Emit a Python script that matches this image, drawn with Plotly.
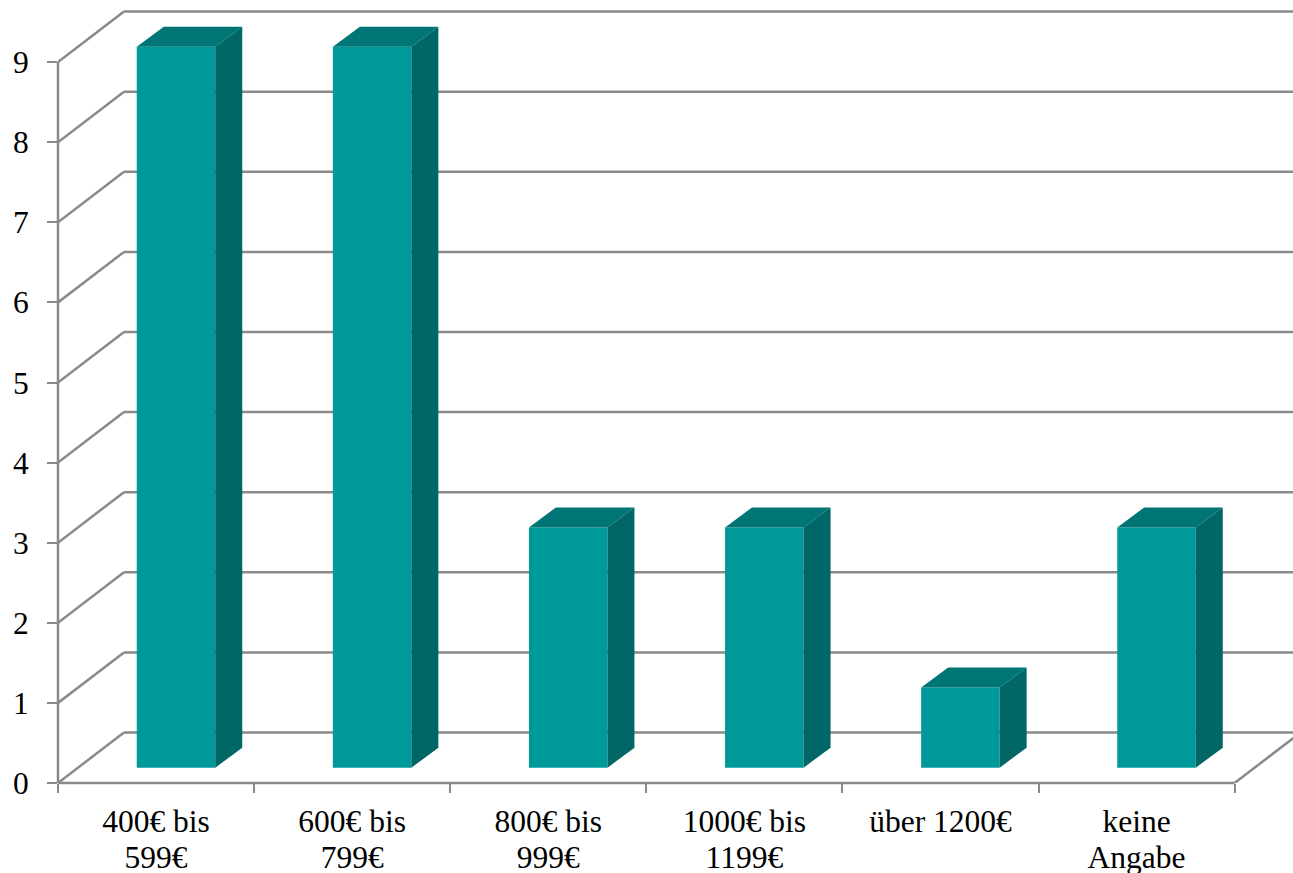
import plotly.graph_objects as go

# --- data ---
label_lines = [["400€ bis", "599€"], ["600€ bis", "799€"], ["800€ bis", "999€"],
               ["1000€ bis", "1199€"], ["über 1200€"], ["keine", "Angabe"]]
values = [9, 9, 3, 3, 1, 3]
y_ticks = [0, 1, 2, 3, 4, 5, 6, 7, 8, 9]

# --- styling / projection constants (pixels converted to axis units) ---
W, H = 1293, 873
PAD_B = 8  # spare room below the window so the second label line does not push the margin
ML, MB = 58, 90
X_UNIT, Y_UNIT = 196.1, 80.1
WALL_DX, WALL_DY = 66 / X_UNIT, 50.5 / Y_UNIT
BAR_W = 78.5 / X_UNIT
BAR_CX = 118.0 / X_UNIT
LIFT = 15.3 / Y_UNIT
DEPTH_DX, DEPTH_DY = 27 / X_UNIT, 20 / Y_UNIT
GRID = "#8a8a8a"
FRONT, TOP, SIDE = "#009999", "#007575", "#006666"
FONT = dict(family="Liberation Serif", size=31.5, color="#000000")
# line pitch follows the tick font size; the glyphs keep the larger size
TICK_FONT = dict(family="Liberation Serif", size=28, color="#000000")
categories = ["<br>".join(f"<span style='font-size:31.5px'>{s}</span>" for s in lines)
              for lines in label_lines]

n = len(label_lines)
positions = [i + BAR_CX for i in range(n)]

fig = go.Figure()
fig.add_trace(go.Bar(x=positions, y=values, base=LIFT, width=BAR_W,
                     marker=dict(color=FRONT, line=dict(width=0)),
                     hoverinfo="skip", showlegend=False))

def faces(kind):
    xs, ys = [], []
    for c, v in zip(positions, values):
        l, r = c - BAR_W / 2, c + BAR_W / 2
        if kind == "top":
            xs += [l, r, r + DEPTH_DX, l + DEPTH_DX, l, None]
            ys += [v + LIFT, v + LIFT, v + LIFT + DEPTH_DY, v + LIFT + DEPTH_DY, v + LIFT, None]
        else:
            xs += [r, r + DEPTH_DX, r + DEPTH_DX, r, r, None]
            ys += [LIFT, LIFT + DEPTH_DY, v + LIFT + DEPTH_DY, v + LIFT, LIFT, None]
    return xs, ys

for kind, col in (("top", TOP), ("side", SIDE)):
    xs, ys = faces(kind)
    fig.add_trace(go.Scatter(x=xs, y=ys, mode="lines", fill="toself", fillcolor=col,
                             line=dict(width=0, color=col), hoverinfo="skip", showlegend=False))

shapes = []
def seg(x0, y0, x1, y1, ref=("x", "y")):
    shapes.append(dict(type="line", layer="below", xref=ref[0], yref=ref[1],
                       x0=x0, y0=y0, x1=x1, y1=y1, line=dict(color=GRID, width=2.5)))

x_max = (W - ML) / X_UNIT
y_max = (H - MB) / Y_UNIT
for t in y_ticks:
    seg(0, t, WALL_DX, t + WALL_DY)
    seg(WALL_DX, t + WALL_DY, x_max + 1, t + WALL_DY)
seg(n, 0, n + WALL_DX, WALL_DY)
# the two front axis lines sit on the plot edge: paper refs keep them unclipped
seg(0, 0, 0, max(y_ticks) / y_max, ref=("paper", "paper"))
seg(0, 0, n / x_max, 0, ref=("paper", "paper"))

fig.update_layout(
    width=W, height=H + PAD_B, margin=dict(l=ML, r=0, t=0, b=MB + PAD_B, pad=0),
    paper_bgcolor="white", plot_bgcolor="white", showlegend=False, shapes=shapes,
    font=FONT,
    xaxis=dict(range=[0, x_max], tickmode="array",
               tickvals=[i + 0.5 for i in range(n)], ticktext=categories,
               ticks="", showgrid=False, zeroline=False, showline=False, tickfont=TICK_FONT,
               ticklabelstandoff=20,
               minor=dict(tickmode="array", tickvals=list(range(n + 1)), ticks="outside",
                          ticklen=9, tickwidth=2, tickcolor=GRID, showgrid=False)),
    yaxis=dict(range=[0, y_max], tickmode="array", tickvals=y_ticks,
               ticktext=[str(t) for t in y_ticks], ticks="outside", ticklen=10, tickwidth=2,
               tickcolor=GRID, showgrid=False, zeroline=False, showline=False, tickfont=FONT,
               ticklabelstandoff=12),
)
fig.write_html("out.html", config={"displayModeBar": False},
               post_script="document.body.style.margin='0';document.documentElement.style.overflow='hidden';")
